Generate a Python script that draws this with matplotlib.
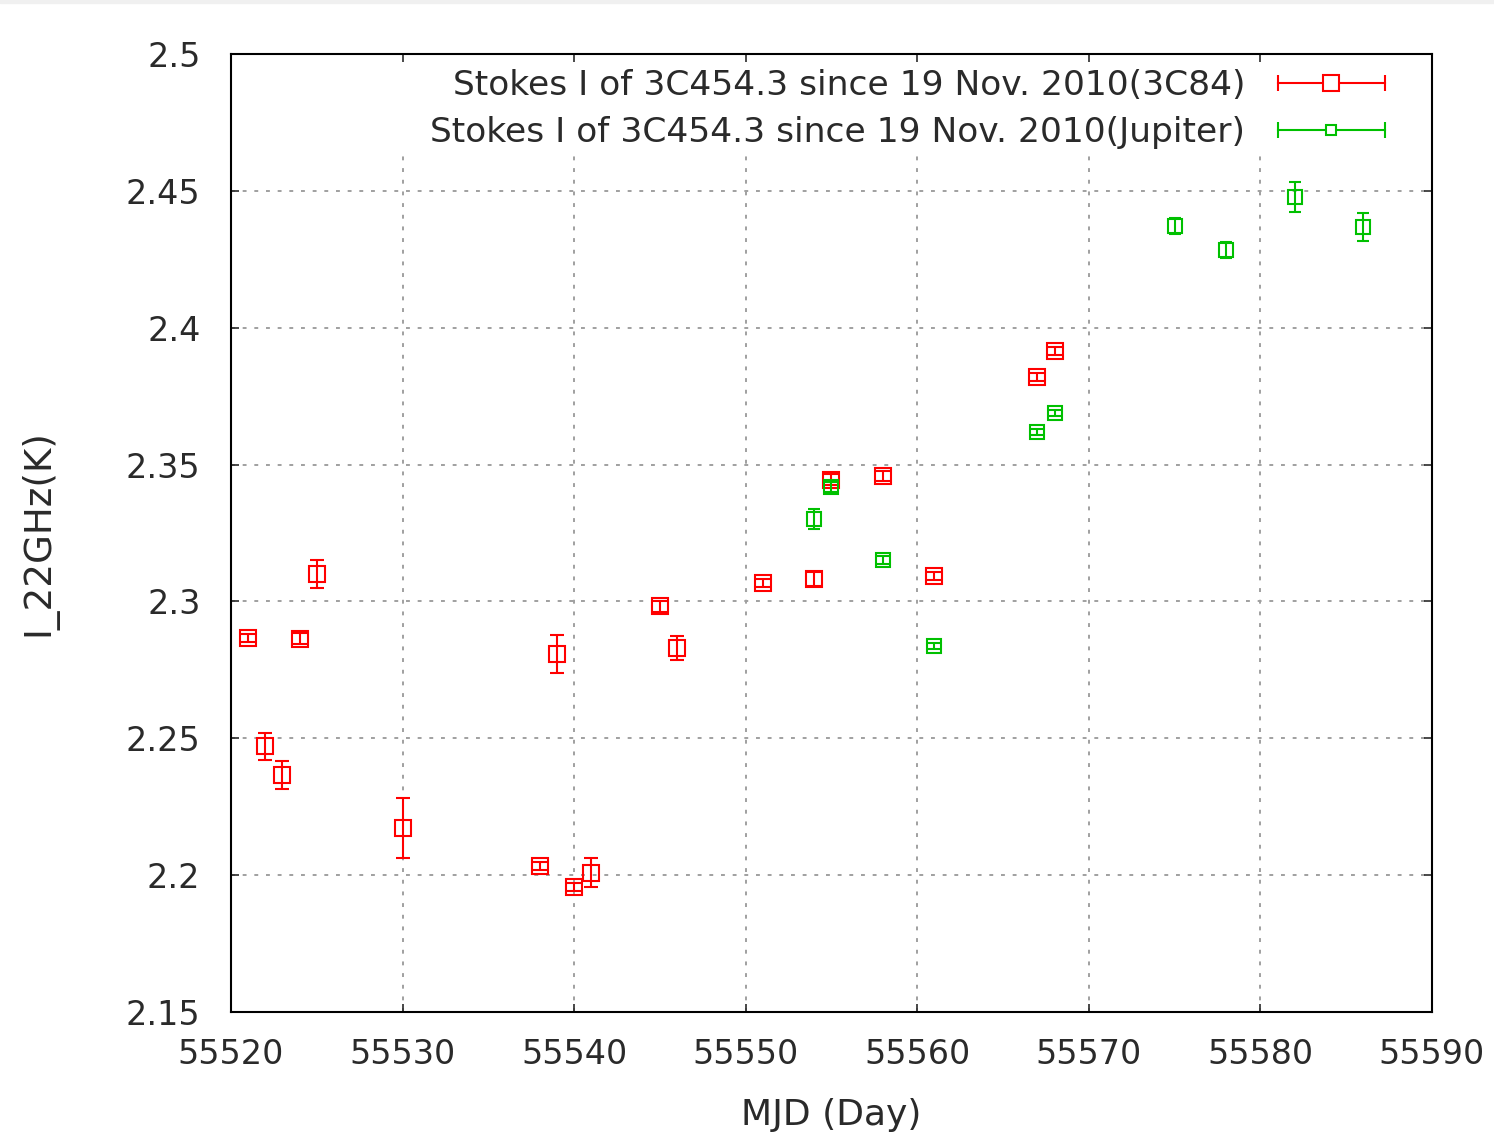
import numpy as np
import matplotlib
matplotlib.use('Agg')
import matplotlib.pyplot as plt
from matplotlib.lines import Line2D
from matplotlib.legend_handler import HandlerBase
from matplotlib.patches import Rectangle

# Stokes I of 3C454.3, calibrated with 3C84
mjd_3c84 = [55521, 55522, 55523, 55524, 55525, 55530, 55538, 55539, 55540, 55541,
            55545, 55546, 55551, 55554, 55555, 55558, 55561, 55567, 55568]
i_3c84 = [2.2866, 2.2470, 2.2366, 2.2863, 2.3100, 2.2172, 2.2033, 2.2808, 2.1957, 2.2008,
          2.2983, 2.2830, 2.3067, 2.3082, 2.3444, 2.3458, 2.3093, 2.3820, 2.3915]
err_3c84 = [0.0015, 0.0050, 0.0050, 0.0020, 0.0050, 0.0110, 0.0015, 0.0070, 0.0015, 0.0053,
            0.0020, 0.0044, 0.0015, 0.0025, 0.0020, 0.0020, 0.0015, 0.0015, 0.0015]

# Stokes I of 3C454.3, calibrated with Jupiter
mjd_jup = [55554, 55555, 55558, 55561, 55567, 55568, 55575, 55578, 55582, 55586]
i_jup = [2.3301, 2.3418, 2.3151, 2.2837, 2.3619, 2.3688, 2.4372, 2.4284, 2.4478, 2.4368]
err_jup = [0.0036, 0.0018, 0.0015, 0.0012, 0.0012, 0.0012, 0.0030, 0.0030, 0.0055, 0.0050]

label_3c84 = 'Stokes I of 3C454.3 since 19 Nov. 2010(3C84)'
label_jup = 'Stokes I of 3C454.3 since 19 Nov. 2010(Jupiter)'

xticks = [55520, 55530, 55540, 55550, 55560, 55570, 55580, 55590]
yticks = [2.15, 2.2, 2.25, 2.3, 2.35, 2.4, 2.45, 2.5]
ytick_labels = ['2.15', '2.2', '2.25', '2.3', '2.35', '2.4', '2.45', '2.5']

red = '#ff0000'
green = '#00c000'
txt = '#2a2a2a'


# gnuplot-like key sample: horizontal bar with end caps and the point in the middle
class KeyHandler(HandlerBase):
    def __init__(self, color, ms, capms):
        super().__init__()
        self.color = color
        self.ms = ms
        self.capms = capms

    def create_artists(self, legend, orig_handle, xdescent, ydescent,
                       width, height, fontsize, trans):
        y = height / 2 - ydescent
        x0, x1 = -xdescent, width - xdescent
        bar = Line2D([x0, x1], [y, y], color=self.color, lw=1.5)
        caps = Line2D([x0, x1], [y, y], ls='none', marker='|', ms=self.capms,
                      mew=1.5, color=self.color)
        pt = Line2D([(x0 + x1) / 2], [y], ls='none', marker='s', ms=self.ms,
                    mfc='white', mec=self.color, mew=1.5)
        for a in (bar, caps, pt):
            a.set_transform(trans)
        return [bar, caps, pt]


plt.rcParams['font.family'] = 'DejaVu Sans'

fig = plt.figure(figsize=(14.94, 11.36), dpi=100)
ax = fig.add_axes([0.1546, 0.1092, 0.8039, 0.8433])

h1 = ax.errorbar(mjd_3c84, i_3c84, yerr=err_3c84, fmt='s', ms=12, mfc='none',
                 mec=red, mew=1.5, ecolor=red, elinewidth=1.5, capsize=5,
                 capthick=1.5, zorder=3)
h2 = ax.errorbar(mjd_jup, i_jup, yerr=err_jup, fmt='s', ms=9.5, mfc='none',
                 mec=green, mew=1.5, ecolor=green, elinewidth=1.5, capsize=4.5,
                 capthick=1.5, zorder=4)

ax.set_xlim(55520, 55590)
ax.set_ylim(2.15, 2.5)
ax.set_xticks(xticks)
ax.set_yticks(yticks)
ax.set_yticklabels(ytick_labels)

# dotted grid drawn by hand so the key box can hide it without hiding the ticks
for xv in xticks[1:-1]:
    ax.axvline(xv, color='#a0a0a0', linestyle=(0, (2, 4)), lw=1.4, zorder=1)
for yv in yticks[1:-1]:
    ax.axhline(yv, color='#a0a0a0', linestyle=(0, (2, 4)), lw=1.4, zorder=1)
ax.add_patch(Rectangle((0.14, 0.8946), 0.86, 0.1054, transform=ax.transAxes,
                       facecolor='white', edgecolor='none', zorder=1.2))

ax.tick_params(direction='in', length=6, width=1.2, top=True, right=True,
               labelsize=24, colors=txt)
ax.tick_params(axis='y', pad=22)
ax.tick_params(axis='x', pad=19)
for sp in ax.spines.values():
    sp.set_linewidth(1.5)
    sp.set_color('black')

ax.set_xlabel('MJD (Day)', fontsize=26, labelpad=19, color=txt)
ax.set_ylabel('I_22GHz(K)', fontsize=26.8, labelpad=49, color=txt)

leg = ax.legend([h1, h2], [label_3c84, label_jup],
                handler_map={h1: KeyHandler(red, 11, 12),
                             h2: KeyHandler(green, 7.5, 12)},
                loc='upper right', bbox_to_anchor=(0.975, 1.002),
                markerfirst=False, alignment='right', fontsize=24.8,
                handlelength=3.1, handletextpad=0.95, labelspacing=0.4,
                borderpad=0.0, frameon=False)
for t in leg.get_texts():
    t.set_color(txt)

# thin light strip along the top edge
fig.patches.append(Rectangle((0, 0.9975), 1, 0.0025, transform=fig.transFigure,
                             color='#f0f0f0', zorder=0))

fig.savefig('out.png', dpi=100)
